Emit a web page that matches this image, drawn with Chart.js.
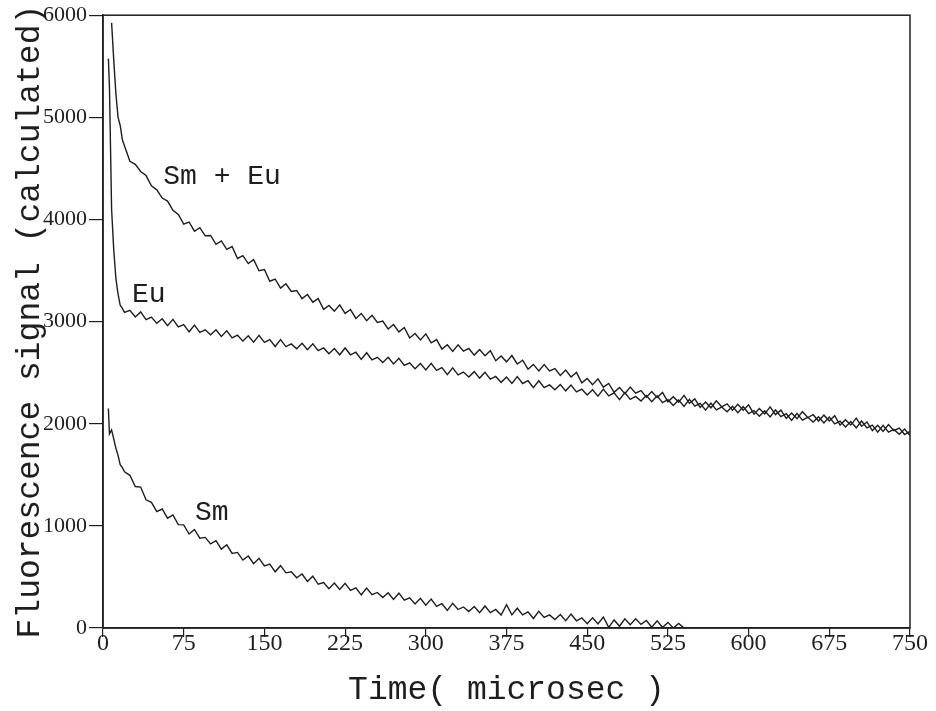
<!DOCTYPE html>
<html>
<head>
<meta charset="utf-8">
<script src="https://cdn.jsdelivr.net/npm/chart.js@4.4.1/dist/chart.umd.min.js"></script>
<style>
  html, body { margin: 0; padding: 0; background: #fff; }
  #wrap { width: 936px; height: 711px; }
</style>
</head>
<body>
<div id="wrap"><canvas id="decayChart" width="936" height="711"></canvas></div>
<script>
// sampling times (microsec), shared by all three traces
const timeUs = [5, 6, 8, 10, 12, 14, 16, 18, 20,
  25, 30, 35, 40, 45, 50, 55, 60, 65, 70, 75, 80, 85, 90, 95, 100, 105, 110, 115, 120,
  125, 130, 135, 140, 145, 150, 155, 160, 165, 170, 175, 180, 185, 190, 195, 200, 205, 210, 215, 220,
  225, 230, 235, 240, 245, 250, 255, 260, 265, 270, 275, 280, 285, 290, 295, 300, 305, 310, 315, 320,
  325, 330, 335, 340, 345, 350, 355, 360, 365, 370, 375, 380, 385, 390, 395, 400, 405, 410, 415, 420,
  425, 430, 435, 440, 445, 450, 455, 460, 465, 470, 475, 480, 485, 490, 495, 500, 505, 510, 515, 520,
  525, 530, 535, 540, 545, 550, 555, 560, 565, 570, 575, 580, 585, 590, 595, 600, 605, 610, 615, 620,
  625, 630, 635, 640, 645, 650, 655, 660, 665, 670, 675, 680, 685, 690, 695, 700, 705, 710, 715, 720,
  725, 730, 735, 740, 745, 750];

const smEuSignal = [null, null, 5925, 5560, 5230, 5000, 4920, 4780, 4720,
  4570, 4540, 4470, 4430, 4330, 4290, 4210, 4180, 4090, 4050,
  3955, 3975, 3885, 3920, 3840, 3843, 3756, 3790, 3707, 3735,
  3618, 3645, 3568, 3607, 3498, 3510, 3395, 3417, 3328, 3370,
  3295, 3305, 3225, 3265, 3190, 3225, 3120, 3158, 3101, 3164,
  3080, 3118, 3031, 3080, 3009, 3062, 2991, 3005, 2928, 2971,
  2899, 2942, 2840, 2883, 2821, 2880, 2792, 2824, 2731, 2773,
  2709, 2773, 2711, 2737, 2672, 2726, 2666, 2715, 2617, 2664,
  2606, 2668, 2585, 2622, 2534, 2581, 2518, 2580, 2518, 2540,
  2473, 2525, 2458, 2502, 2400, 2443, 2382, 2440, 2358, 2395,
  2307, 2355, 2295, 2360, 2300, 2325, 2260, 2316, 2256, 2307,
  2214, 2265, 2212, 2278, 2200, 2243, 2160, 2213, 2156, 2224,
  2166, 2194, 2132, 2190, 2132, 2185, 2094, 2148, 2096, 2165,
  2089, 2133, 2052, 2105, 2049, 2118, 2061, 2088, 2026, 2084,
  2027, 2079, 1987, 2040, 1987, 2055, 1976, 2017, 1933, 1984,
  1925, 1991, 1932, 1958, 1894, 1925];

const euSignal = [5575, 5300, 4100, 3700, 3420, 3270, 3160, 3130, 3090,
  3110, 3045, 3095, 3020, 3045, 2983, 3028, 2960, 3022, 2948,
  2970, 2900, 2965, 2895, 2920, 2870, 2920, 2855, 2910, 2840,
  2867, 2809, 2861, 2798, 2865, 2797, 2824, 2756, 2823, 2755,
  2782, 2735, 2787, 2725, 2782, 2715, 2742, 2685, 2737, 2675,
  2742, 2675, 2700, 2630, 2695, 2625, 2650, 2600, 2650, 2585,
  2640, 2571, 2597, 2538, 2589, 2526, 2592, 2523, 2549, 2480,
  2547, 2479, 2506, 2458, 2510, 2447, 2504, 2436, 2463, 2405,
  2457, 2394, 2462, 2394, 2421, 2353, 2421, 2353, 2380, 2332,
  2384, 2322, 2379, 2311, 2338, 2281, 2333, 2270, 2339, 2273,
  2302, 2236, 2305, 2239, 2268, 2222, 2276, 2215, 2273, 2207,
  2235, 2178, 2232, 2170, 2238, 2172, 2200, 2133, 2202, 2135,
  2163, 2117, 2170, 2108, 2167, 2100, 2129, 2073, 2127, 2066,
  2135, 2069, 2098, 2032, 2101, 2035, 2063, 2016, 2069, 2007,
  2065, 1998, 2026, 1969, 2022, 1960, 2027, 1959, 1986, 1918,
  1985, 1917, 1944, 1896, 1948, 1885];

// Sm trace stops around 540 microsec
const smSignal = [2150, 1900, 1940, 1850, 1760, 1690, 1600, 1570, 1530,
  1495, 1385, 1380, 1255, 1230, 1140, 1165, 1075, 1107, 1012,
  1010, 920, 965, 880, 887, 823, 855, 772, 815, 730,
  740, 665, 705, 630, 683, 607, 625, 550, 610, 540,
  550, 492, 529, 455, 507, 428, 445, 385, 441, 377,
  438, 369, 394, 325, 391, 327, 348, 299, 345, 280,
  341, 272, 296, 235, 290, 224, 283, 212, 238, 172,
  242, 181, 206, 161, 211, 150, 216, 151, 182, 127,
  228, 129, 194, 129, 158, 93, 163, 103, 128, 83,
  132, 72, 137, 71, 99, 43, 101, 40, 108, 6,
  79, 17, 90, 33, 91, 35, 73, 7, 70, 5,
  55, 0, 45, 0];

// curve labels, anchored in data units (time, signal)
const curveLabels = [
  { text: 'Sm + Eu', t: 56, v: 4420 },
  { text: 'Eu', t: 27, v: 3268 },
  { text: 'Sm', t: 85.5, v: 1132 }
];

const ink = '#1e1e1e';

function toPoints(values) {
  return values.map((v, i) => ({ x: timeUs[i], y: v }));
}

const framePlugin = {
  id: 'frameAndLabels',
  afterDatasetsDraw(chart) {
    const { ctx, chartArea, scales } = chart;
    ctx.save();
    ctx.strokeStyle = ink;
    ctx.lineWidth = 1.5;
    ctx.strokeRect(chartArea.left, chartArea.top, chartArea.right - chartArea.left, chartArea.bottom - chartArea.top);
    ctx.fillStyle = ink;
    ctx.font = '28px "Liberation Mono"';
    ctx.textBaseline = 'middle';
    ctx.textAlign = 'left';
    curveLabels.forEach(l => {
      ctx.fillText(l.text, scales.x.getPixelForValue(l.t), scales.y.getPixelForValue(l.v));
    });
    ctx.restore();
  }
};

const lineStyle = {
  borderColor: ink,
  borderWidth: 1.4,
  pointRadius: 0,
  tension: 0,
  fill: false
};

const ctx = document.getElementById('decayChart').getContext('2d');
new Chart(ctx, {
  type: 'line',
  data: {
    datasets: [
      { label: 'Sm + Eu', data: toPoints(smEuSignal), ...lineStyle },
      { label: 'Eu', data: toPoints(euSignal), ...lineStyle },
      { label: 'Sm', data: toPoints(smSignal), ...lineStyle }
    ]
  },
  options: {
    responsive: false,
    animation: false,
    layout: { padding: { left: 0, top: 13, right: 26, bottom: 0 } },
    plugins: {
      legend: { display: false },
      tooltip: { enabled: false }
    },
    scales: {
      x: {
        type: 'linear',
        min: 0,
        max: 750,
        afterFit: s => { s.height = 83; },
        ticks: {
          stepSize: 75,
          autoSkip: false,
          maxRotation: 0,
          padding: -8,
          color: ink,
          font: { family: 'Liberation Serif', size: 24 },
          callback: v => String(v)
        },
        grid: { drawOnChartArea: false, color: ink, tickLength: 9, lineWidth: 1.2 },
        border: { color: ink, width: 1.5 },
        title: {
          display: true,
          text: 'Time( microsec )',
          color: ink,
          font: { family: 'Liberation Mono', size: 33 },
          padding: { top: 0, bottom: 1 }
        }
      },
      y: {
        min: 0,
        max: 6000,
        afterFit: s => { s.width = 103; },
        ticks: {
          stepSize: 1000,
          padding: 2,
          color: ink,
          font: { family: 'Liberation Serif', size: 22 },
          callback: v => String(v)
        },
        grid: { drawOnChartArea: false, color: ink, tickLength: 14, lineWidth: 1.2 },
        border: { color: ink, width: 1.5 },
        title: {
          display: true,
          text: 'Fluorescence signal (calculated)',
          color: ink,
          font: { family: 'Liberation Mono', size: 33 },
          padding: { top: 10, bottom: 0 }
        }
      }
    }
  },
  plugins: [framePlugin]
});
</script>
</body>
</html>
